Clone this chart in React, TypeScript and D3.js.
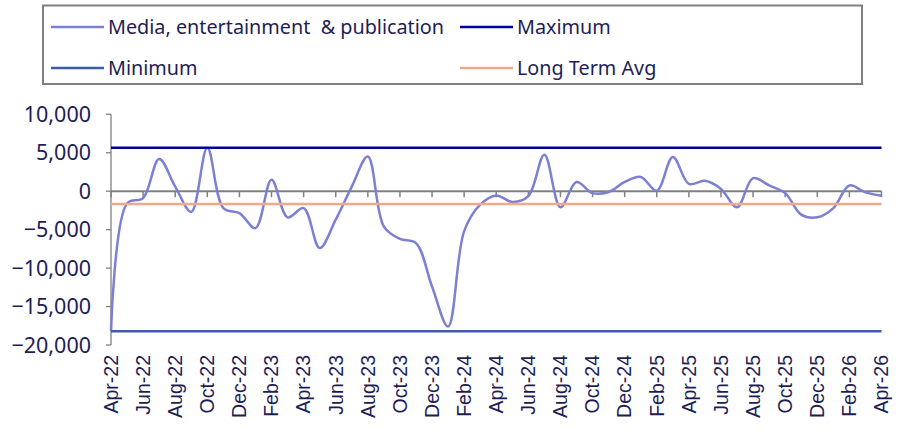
import * as d3 from 'd3';

const months = [
  'Apr-22', 'May-22', 'Jun-22', 'Jul-22', 'Aug-22', 'Sep-22', 'Oct-22', 'Nov-22', 'Dec-22',
  'Jan-23', 'Feb-23', 'Mar-23', 'Apr-23', 'May-23', 'Jun-23', 'Jul-23', 'Aug-23', 'Sep-23',
  'Oct-23', 'Nov-23', 'Dec-23', 'Jan-24', 'Feb-24', 'Mar-24', 'Apr-24', 'May-24', 'Jun-24',
  'Jul-24', 'Aug-24', 'Sep-24', 'Oct-24', 'Nov-24', 'Dec-24', 'Jan-25', 'Feb-25', 'Mar-25',
  'Apr-25', 'May-25', 'Jun-25', 'Jul-25', 'Aug-25', 'Sep-25', 'Oct-25', 'Nov-25', 'Dec-25',
  'Jan-26', 'Feb-26', 'Mar-26', 'Apr-26',
];

const media = [
  -18200, -1600, -900, 4200, 600, -2700, 5650, -2200, -2850,
  -4800, 1500, -3400, -2200, -7400, -3700, 600, 4500, -4600,
  -6200, -6750, -12400, -17600, -5200, -1750, -550, -1400, -650,
  4750, -2100, 1200, -250, -100, 1200, 1850, 50, 4450,
  950, 1350, 300, -2100, 1700, 750, -250, -3050, -3400,
  -2200, 750, -150, -600,
];

const maximum = 5650;
const minimum = -18200;
const longTermAvg = -1650;

const yTicks = [10000, 5000, 0, -5000, -10000, -15000, -20000];

const legendItems = [
  { label: 'Media, entertainment  & publication', color: '#7b80d3' },
  { label: 'Maximum', color: '#00009a' },
  { label: 'Minimum', color: '#3c5ea6' },
  { label: 'Long Term Avg', color: '#f2a88a' },
];

const W = 901;
const H = 434;
const TEXT = '#1e1e55';
const AXIS = '#808080';

export default function App() {
  const x = d3.scaleLinear().domain([0, months.length - 1]).range([111, 881.5]);
  const y = d3.scaleLinear().domain([-20000, 10000]).range([345, 114.3]);

  const line = d3
    .line<number>()
    .x((_, i) => x(i))
    .y((d) => y(d))
    .curve(d3.curveCatmullRom.alpha(0.5));

  const fmt = d3.format(',');
  const y0 = y(0);

  const hLine = (v: number, color: string) => (
    <line x1={x(0)} x2={x(months.length - 1)} y1={y(v)} y2={y(v)} stroke={color} strokeWidth={2.5} />
  );

  return (
    <svg width={W} height={H} style={{ position: 'absolute', left: 0, top: 0, background: '#fff' }}>
      {/* legend */}
      <rect x={43} y={5.5} width={819} height={78.5} fill="#fff" stroke={AXIS} strokeWidth={2} />
      {legendItems.map((d, i) => {
        const lx = i % 2 === 0 ? 51 : 460;
        const ly = i < 2 ? 27 : 68;
        return (
          <g key={d.label}>
            <line x1={lx} x2={lx + 53} y1={ly} y2={ly} stroke={d.color} strokeWidth={2.5} />
            <text
              x={lx + 57}
              y={ly}
              dy="0.35em"
              fill={TEXT}
              fontFamily="Noto Sans, sans-serif"
              fontSize={19.8}
              style={{ whiteSpace: 'pre' }}
            >
              {d.label}
            </text>
          </g>
        );
      })}

      {/* y axis */}
      <line x1={x(0)} x2={x(0)} y1={y(10000)} y2={y(-20000)} stroke={AXIS} strokeWidth={1.3} />
      {yTicks.map((t) => (
        <g key={t}>
          <line x1={x(0) - 5} x2={x(0)} y1={y(t)} y2={y(t)} stroke={AXIS} strokeWidth={1.3} />
          <text
            x={91}
            y={y(t)}
            dy="0.35em"
            textAnchor="end"
            fill={TEXT}
            fontFamily="Noto Sans, sans-serif"
            fontSize={21.5}
          >
            {fmt(t)}
          </text>
        </g>
      ))}

      {/* x axis at zero */}
      <line x1={x(0)} x2={x(months.length - 1)} y1={y0} y2={y0} stroke={AXIS} strokeWidth={2} />
      {months.map((m, i) =>
        i % 2 === 0 ? (
          <g key={m}>
            <line x1={x(i)} x2={x(i)} y1={y0} y2={y0 + 6} stroke={AXIS} strokeWidth={1.5} />
            <text
              transform={`translate(${x(i)},${355}) rotate(-90)`}
              textAnchor="end"
              dy="0.35em"
              fill={TEXT}
              fontFamily="Liberation Sans, Arial, sans-serif"
              fontSize={19.5}
            >
              {m}
            </text>
          </g>
        ) : null
      )}

      {/* series */}
      <path d={line(media) ?? ''} fill="none" stroke="#7b80d3" strokeWidth={2.5} />
      {hLine(maximum, '#00009a')}
      {hLine(minimum, '#3c5ea6')}
      {hLine(longTermAvg, '#f2a88a')}
    </svg>
  );
}
